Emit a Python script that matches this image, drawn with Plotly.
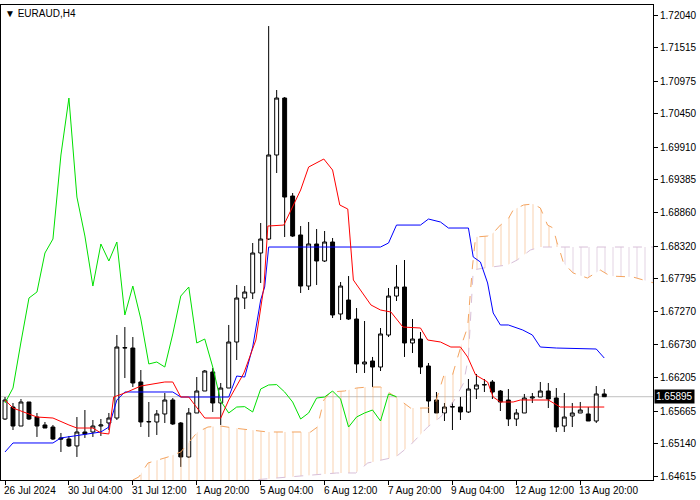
import plotly.graph_objects as go

# ---- candle data (EURAUD H4) ----
opens = [1.65536,1.65729,1.65423,1.65810,1.65568,1.65440,1.65407,1.65231,1.65214,1.65102,
         1.65327,1.65327,1.65423,1.65472,1.65552,1.66679,1.66679,1.66132,1.65488,1.65488,
         1.65617,1.65842,1.65472,1.64925,1.65633,1.65987,1.66293,1.65794,1.66035,1.66776,
         1.67484,1.67565,1.68209,1.68434,1.69787,1.70704,1.69126,1.68499,1.67677,1.68354,
         1.68080,1.68386,1.67227,1.67452,1.67146,1.66422,1.66470,1.66373,1.66888,1.67516,
         1.67661,1.66760,1.66824,1.66389,1.65842,1.65633,1.65729,1.65729,1.65649,1.66019,
         1.66084,1.66132,1.65987,1.65842,1.65536,1.65633,1.65874,1.65890,1.65987,1.65874,
         1.65423,1.65584,1.65633,1.65617,1.65504,1.65939]
highs = [1.65890,1.65794,1.65858,1.65810,1.65633,1.65488,1.65440,1.65311,1.65263,1.65568,
         1.65681,1.65520,1.65536,1.65633,1.66889,1.67017,1.66856,1.66325,1.65810,1.65681,
         1.65955,1.65874,1.65488,1.65713,1.66212,1.66325,1.66357,1.66116,1.67050,1.67694,
         1.67677,1.68370,1.68692,1.71863,1.70833,1.70720,1.69175,1.68643,1.68708,1.68595,
         1.68563,1.68450,1.67742,1.67838,1.67323,1.67114,1.66535,1.67001,1.67645,1.68016,
         1.68096,1.67146,1.66937,1.66438,1.65971,1.65794,1.65810,1.65890,1.66180,1.66261,
         1.66180,1.66164,1.66003,1.66019,1.65697,1.65939,1.65955,1.66132,1.66116,1.66035,
         1.65955,1.65794,1.65810,1.65729,1.66067,1.66019]
lows = [1.65520,1.65359,1.65423,1.65520,1.65247,1.65391,1.65198,1.65005,1.65086,1.64925,
        1.65231,1.65247,1.65263,1.65359,1.65520,1.66196,1.66051,1.65407,1.65247,1.65279,
        1.65472,1.65440,1.64765,1.64909,1.65633,1.65987,1.65649,1.65440,1.66035,1.66486,
        1.67307,1.67468,1.67726,1.68418,1.69497,1.68466,1.68466,1.67565,1.67613,1.67694,
        1.68064,1.67162,1.67130,1.67130,1.66277,1.66277,1.66051,1.66309,1.66856,1.67436,
        1.66535,1.66599,1.66261,1.65633,1.65633,1.65504,1.65359,1.65520,1.65633,1.65858,
        1.65971,1.65858,1.65665,1.65423,1.65423,1.65633,1.65794,1.65890,1.65713,1.65327,
        1.65327,1.65407,1.65633,1.65504,1.65472,1.65890]
closes = [1.65842,1.65423,1.65810,1.65536,1.65423,1.65391,1.65214,1.65214,1.65102,1.65327,
          1.65295,1.65423,1.65440,1.65552,1.66695,1.66685,1.66116,1.65488,1.65495,1.65617,
          1.65842,1.65456,1.64925,1.65633,1.65987,1.66309,1.65794,1.66035,1.66776,1.67484,
          1.67581,1.68209,1.68434,1.69787,1.70704,1.69110,1.68482,1.67677,1.68354,1.68080,
          1.68386,1.67211,1.67677,1.67146,1.66422,1.66454,1.66373,1.66905,1.67516,1.67661,
          1.66760,1.66824,1.66373,1.65826,1.65633,1.65729,1.65735,1.65649,1.66019,1.66084,
          1.66090,1.65971,1.65810,1.65536,1.65633,1.65874,1.65890,1.65987,1.65858,1.65407,
          1.65568,1.65633,1.65681,1.65504,1.65939,1.65895]

# ---- Ichimoku lines (bar index, price) ----
tenkan_x = [0,1,4,6,8,9,11,12,13,13.6,15,17,20,21,22,23,25,27,28,29.9,31.4,32.4,32.9,34.9,37,38,39.9,41,41.9,42.9,
            43.6,44.5,45.8,47,48.3,49.8,52,52.9,54.5,55.8,57,57.9,58.9,60.4,61.1,62,63.6,64.5,68,69.5,75]
tenkan_y = [1.65842,1.65713,1.65568,1.65552,1.65440,1.65391,1.65391,1.65311,1.65295,1.65890,1.65955,1.66067,1.66132,1.66132,
            1.65890,1.65890,1.65552,1.65552,1.65842,1.66277,1.66808,1.67661,1.68643,1.68659,1.69223,1.69593,1.69722,1.69545,
            1.68982,1.68917,1.67774,1.67613,1.67372,1.67291,1.67259,1.67017,1.67001,1.66808,1.66776,1.66695,1.66695,1.66535,
            1.66245,1.66132,1.65890,1.65810,1.65810,1.65842,1.65842,1.65729,1.65729]
kijun_x = [0,1,6,7,12,13,14,15,21,22,28,29,30,31,32,32.5,33,47,48,49,52,53,54.5,55.5,58,58.6,59.5,60.4,61.1,62,63,
           64.8,66,67,69,74,75]
kijun_y = [1.65005,1.65150,1.65150,1.65231,1.65327,1.65407,1.65842,1.65971,1.65971,1.65890,1.65890,1.66228,1.66212,
           1.66695,1.67452,1.67661,1.68305,1.68305,1.68370,1.68659,1.68659,1.68756,1.68708,1.68611,1.68611,1.68145,
           1.68064,1.67726,1.67243,1.67050,1.67050,1.66969,1.66889,1.66695,1.66679,1.66663,1.66518]
spanA_x = [16,16.75,17.9,20.4,22,23.25,24.1,25.4,27,28.6,31.1,32.9,38.25,39.1,39.9,40.75,42.5,44,45.4,47,48.9,50.75,
           52.9,53.9,54.9,56,57,57.9,58.5,58.9,60.4,61.1,62,62.9,63.6,64.9,66.1,67,67.9,68.6,69.1,69.3,69.9,71.1,72.9,
           74.5,75.75,78.6,81.2]
spanA_y = [1.64554,1.64603,1.64828,1.64925,1.65005,1.65198,1.65327,1.65407,1.65423,1.65391,1.65359,1.65327,1.65327,
           1.65407,1.65842,1.65971,1.65987,1.66035,1.66051,1.66051,1.65890,1.65713,1.65713,1.65810,1.66228,1.66245,
           1.66679,1.67017,1.67983,1.68466,1.68482,1.68531,1.68659,1.68740,1.68901,1.68982,1.68998,1.68934,1.68659,
           1.68611,1.68370,1.68305,1.68048,1.67887,1.67806,1.67935,1.67838,1.67822,1.67726]
spanB_x = [16,41.5,43.9,45.4,48.9,50.75,52.9,54.5,56.1,57.4,58,58.6,59.9,62.9,64.1,65.75,67,69.3,81.2]
spanB_y = [1.64392,1.64667,1.64667,1.64828,1.64925,1.65118,1.65407,1.65568,1.65810,1.66116,1.66535,1.67935,1.67967,
           1.68016,1.68096,1.68257,1.68305,1.68305,1.68305]
cross_at = 69.3

x_ticks = [0, 8, 16, 24, 32, 40, 48, 56, 64, 72]
x_labels = ["26 Jul 2024", "30 Jul 04:00", "31 Jul 12:00", "1 Aug 20:00", "5 Aug 04:00",
            "6 Aug 12:00", "7 Aug 20:00", "9 Aug 04:00", "12 Aug 12:00", "13 Aug 20:00"]
y_labels = ["1.72040","1.71515","1.70975","1.70450","1.69910","1.69385","1.68860","1.68320",
            "1.67795","1.67270","1.66730","1.66205","1.65665","1.65140","1.64615"]

n = len(closes)
bars = list(range(n))
SANDY = "#F4A460"
THISTLE = "#D8BFD8"
FONT = "Liberation Sans"

fig = go.Figure()

def part(xs, ys, lo, hi):
    px = [x for x in xs if lo <= x <= hi]
    py = [y for x, y in zip(xs, ys) if lo <= x <= hi]
    return px, py

for lo, hi, col in [(0, cross_at, SANDY), (cross_at, 100, "#C8A8C8")]:
    bx, by = part(spanB_x, spanB_y, lo, hi)
    ax, ay = part(spanA_x, spanA_y, lo, hi)
    fig.add_trace(go.Scatter(x=bx, y=by, mode="lines", line=dict(width=0), hoverinfo="skip", showlegend=False))
    fig.add_trace(go.Scatter(x=ax, y=ay, mode="lines", line=dict(width=0), fill="tonexty",
                             fillcolor="rgba(0,0,0,0)",
                             fillpattern=dict(shape="|", fgcolor=col, bgcolor="rgba(0,0,0,0)", size=8, solidity=0.125),
                             hoverinfo="skip", showlegend=False))

fig.add_trace(go.Scatter(x=spanB_x, y=spanB_y, mode="lines", line=dict(color=THISTLE, width=1, dash="dash"), showlegend=False))
fig.add_trace(go.Scatter(x=spanA_x, y=spanA_y, mode="lines", line=dict(color=SANDY, width=1, dash="dash"), showlegend=False))

# chikou span: close shifted back 26 bars
fig.add_trace(go.Scatter(x=bars[:n - 26], y=closes[26:], mode="lines", line=dict(color="#00E000", width=1), showlegend=False))
fig.add_trace(go.Scatter(x=kijun_x, y=kijun_y, mode="lines", line=dict(color="#0000FF", width=1), showlegend=False))
fig.add_trace(go.Scatter(x=tenkan_x, y=tenkan_y, mode="lines", line=dict(color="#FF0000", width=1), showlegend=False))

fig.add_trace(go.Candlestick(x=bars, open=opens, high=highs, low=lows, close=closes,
                             increasing=dict(line=dict(color="black", width=1), fillcolor="white"),
                             decreasing=dict(line=dict(color="black", width=1), fillcolor="black"),
                             whiskerwidth=0, showlegend=False))

last = closes[-1]
fig.add_shape(type="line", xref="paper", x0=0, x1=1, yref="y", y0=last, y1=last,
              line=dict(color="#C0C0C0", width=1), layer="below")

fig.add_annotation(xref="paper", x=1.0, xanchor="left", yref="y", y=last, text=f"{last:.5f}",
                   showarrow=False, bgcolor="black", font=dict(color="white", size=10, family=FONT),
                   borderpad=1, xshift=1)
for tv, tl in zip(x_ticks, x_labels):
    fig.add_annotation(xref="x", x=tv, yref="paper", y=0, yanchor="top", xanchor="left", text=tl,
                       showarrow=False, font=dict(size=10, family=FONT, color="black"),
                       xshift=-3, yshift=-3)
fig.add_annotation(xref="paper", x=0, yref="paper", y=1, xanchor="left", yanchor="top",
                   text="▼ EURAUD,H4", showarrow=False, xshift=2, yshift=-1,
                   font=dict(size=10, family=FONT, color="black"))

yvals = [float(s) for s in y_labels]
fig.update_layout(
    width=700, height=500, autosize=False,
    margin=dict(l=1, r=47, t=5, b=20),
    paper_bgcolor="white", plot_bgcolor="white",
    xaxis=dict(range=[-0.5, 81.1], showgrid=False, zeroline=False, rangeslider=dict(visible=False),
               showline=True, linecolor="black", mirror=True, tickvals=x_ticks, ticks="outside",
               ticklen=4, tickcolor="black", showticklabels=False),
    yaxis=dict(range=[1.64554, 1.72202], side="right", showgrid=False, zeroline=False,
               showline=True, linecolor="black", mirror=True, tickvals=yvals, ticktext=y_labels,
               ticks="outside", ticklen=4, tickcolor="black",
               tickfont=dict(size=10, family=FONT, color="black")),
    hovermode=False,
)
fig.write_html("out.html", config={"displayModeBar": False},
               post_script="document.body.style.margin='0';")
